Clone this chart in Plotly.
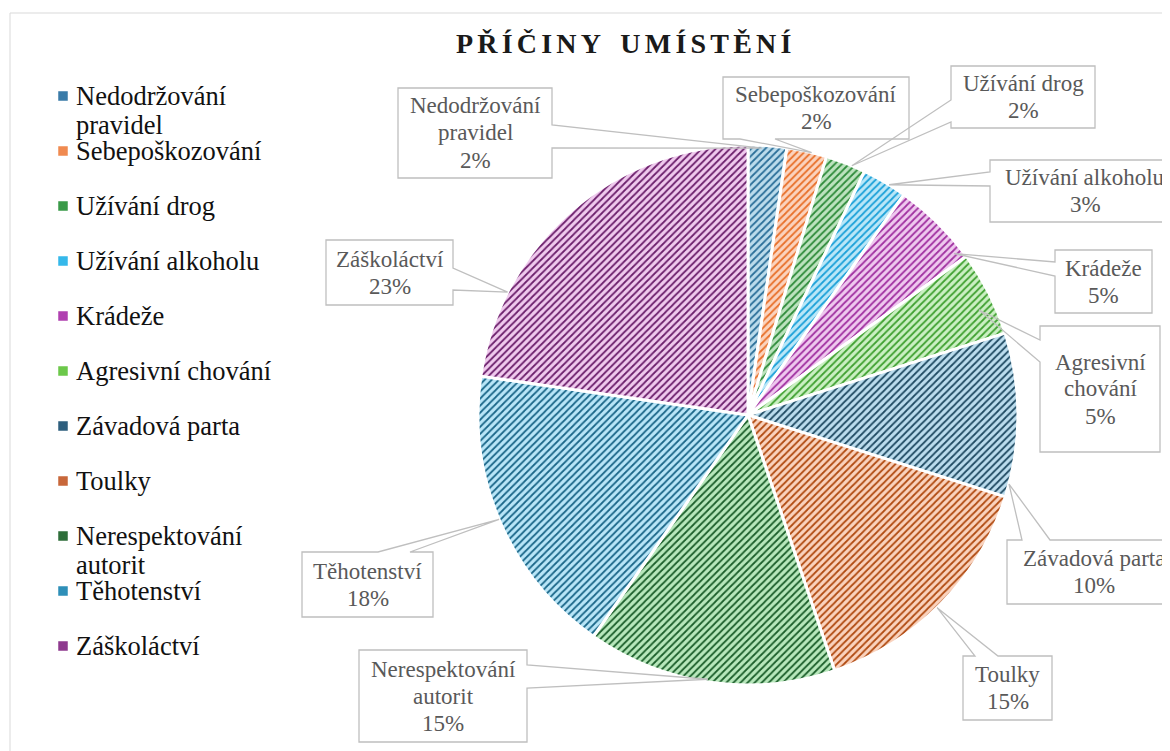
import math
import plotly.graph_objects as go

# ---------------- data ----------------
categories = ["Nedodržování pravidel", "Sebepoškozování", "Užívání drog",
              "Užívání alkoholu", "Krádeže", "Agresivní chování",
              "Závadová parta", "Toulky", "Nerespektování autorit",
              "Těhotenství", "Záškoláctví"]
values = [2.3, 2.4, 2.4, 2.7, 5.2, 5.1, 9.8, 14.9, 14.9, 17.6, 22.7]
title_text = "PŘÍČINY UMÍSTĚNÍ"

# ---------------- styles ----------------
swatch_colors = ["#3A7BA8", "#F08A50", "#3A9A48", "#35B8EA", "#B040B0", "#6CC84A",
                 "#2E5F7E", "#C8673A", "#2E6E3A", "#2E8FB8", "#8E3A8E"]
light_colors = ["#BCDCEC", "#FBD3BE", "#BDE3BF", "#BAE7F8", "#EFC9EF", "#CBF0C3",
                "#BCDDEE", "#FAD3BE", "#B8E8BC", "#B9E6F8", "#F0CAEE"]
stripe_colors = ["#2A6E98", "#E8702A", "#2E8B3A", "#1AA0D8", "#A030A0", "#3FA030",
                 "#1F4A62", "#B04A10", "#1B5E2A", "#1A6688", "#6B1F6B"]
SERIF = "Liberation Serif, Times New Roman, serif"

W, H = 1170, 751
OFF = 8          # page body margin
CX, CY, R = 748, 415, 270


def px(x):
    return (x - OFF) / W


def py(y):
    return 1 - (y - OFF) / H


legend_wrap = {0, 8}
box_wrap = {0, 5, 8}

# callout boxes: x0, y0, x1, y1, wedge side, wedge base start, wedge base end
boxes = [
    (398, 88, 552, 178, "r", 125, 148),
    (723, 77, 909, 139, "b", 740, 775),
    (951, 66, 1095, 128, "l", 100, 122),
    (990, 160, 1180, 222, "l", 172, 186),
    (1055, 250, 1152, 313, "l", 262, 276),
    (1040, 326, 1160, 452, "l", 340, 362),
    (1007, 540, 1180, 604, "t", 1022, 1050),
    (963, 656, 1052, 720, "t", 975, 998),
    (359, 650, 527, 742, "r", 665, 688),
    (302, 552, 433, 617, "t", 378, 410),
    (326, 240, 453, 305, "r", 268, 290),
]
# anchor position inside each slice: fraction of span, radius factor
anchor_t = [0.36, 0.62, 0.66, 0.61, 0.89, 0.63, 0.92, 0.52, 0.51, 0.51, 0.23]
anchor_r = [0.99, 1.0, 1.0, 1.0, 0.97, 0.94, 1.0, 1.0, 0.99, 1.0, 1.0]


def split_first(s):
    a, b = s.split(" ", 1)
    return [a, b]


fig = go.Figure()
fig.add_trace(go.Pie(
    labels=categories, values=values, sort=False, direction="clockwise", rotation=0,
    textinfo="none", hoverinfo="label+percent", showlegend=False,
    marker=dict(colors=light_colors, line=dict(color="white", width=3),
                pattern=dict(shape="/", fgcolor=stripe_colors, bgcolor=light_colors,
                             size=5, solidity=0.35)),
    domain=dict(x=[px(CX - R), px(CX + R)], y=[py(CY + R), py(CY - R)]),
))

shapes = []
annotations = []

# outer chart border
shapes.append(dict(type="rect", xref="paper", yref="paper",
                   x0=px(10), x1=px(1190), y0=py(780), y1=py(13),
                   line=dict(color="#D9D9D9", width=1), fillcolor="rgba(0,0,0,0)"))

# title (letter-spaced)
annotations.append(dict(
    text='<span style="letter-spacing:4.2px;word-spacing:5px"><b>' + title_text + "</b></span>",
    x=px(626), y=py(44), xref="paper", yref="paper",
    showarrow=False, xanchor="center", yanchor="middle",
    font=dict(family=SERIF, size=28, color="#1A1A1A")))

# callouts
total = sum(values)
cum = 0.0
for i, (name, v) in enumerate(zip(categories, values)):
    a0 = cum / total * 360
    cum += v
    a1 = cum / total * 360
    ang = math.radians(a0 + anchor_t[i] * (a1 - a0))
    ax = CX + anchor_r[i] * R * math.sin(ang)
    ay = CY - anchor_r[i] * R * math.cos(ang)
    x0, y0, x1, y1, side, b0, b1 = boxes[i]
    if side == "t":
        pts = [(x0, y0), (b0, y0), (ax, ay), (b1, y0), (x1, y0), (x1, y1), (x0, y1)]
    elif side == "r":
        pts = [(x0, y0), (x1, y0), (x1, b0), (ax, ay), (x1, b1), (x1, y1), (x0, y1)]
    elif side == "b":
        pts = [(x0, y0), (x1, y0), (x1, y1), (b1, y1), (ax, ay), (b0, y1), (x0, y1)]
    else:
        pts = [(x0, y0), (x1, y0), (x1, y1), (x0, y1), (x0, b1), (ax, ay), (x0, b0)]
    path = "M " + " L ".join(f"{px(x):.5f},{py(y):.5f}" for x, y in pts) + " Z"
    shapes.append(dict(type="path", xref="paper", yref="paper", path=path,
                       line=dict(color="#BFBFBF", width=1.3), fillcolor="rgba(0,0,0,0)"))
    lines = split_first(name) if i in box_wrap else [name]
    lines = lines + [f"{int(v / total * 100 + 0.5)}%"]
    lh = 27
    cyb = (y0 + y1) / 2
    for k, ln in enumerate(lines):
        yy = cyb + (k - (len(lines) - 1) / 2) * lh
        annotations.append(dict(text=ln, x=px((x0 + x1) / 2), y=py(yy), xref="paper", yref="paper",
                                showarrow=False, xanchor="center", yanchor="middle",
                                font=dict(family=SERIF, size=23, color="#595959")))

# legend (manual)
leg_y0, leg_step = 96, 55
for i, name in enumerate(categories):
    yc = leg_y0 + i * leg_step
    shapes.append(dict(type="rect", xref="paper", yref="paper",
                       x0=px(58), x1=px(68), y0=py(yc + 5), y1=py(yc - 5),
                       line=dict(color="white", width=0.5), fillcolor=swatch_colors[i]))
    lines = split_first(name) if i in legend_wrap else [name]
    for k, ln in enumerate(lines):
        annotations.append(dict(text=ln, x=px(74), y=py(yc + k * 29), xref="paper", yref="paper",
                                showarrow=False, xanchor="left", yanchor="middle",
                                font=dict(family=SERIF, size=26.5, color="#111111")))

fig.update_layout(width=W, height=H, margin=dict(l=0, r=0, t=0, b=0),
                  paper_bgcolor="white", plot_bgcolor="white",
                  shapes=shapes, annotations=annotations)
fig.write_html("out.html")
